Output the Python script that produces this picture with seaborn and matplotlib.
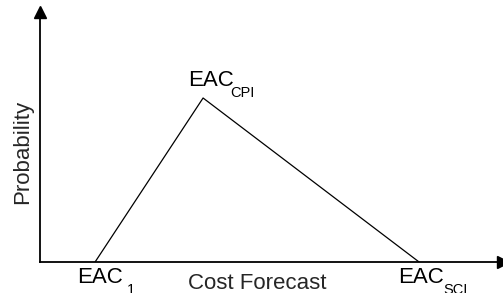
import matplotlib
matplotlib.use("Agg")
import matplotlib.pyplot as plt
import seaborn as sns
import pandas as pd

# Data
cost_forecast = [1.0, 2.0, 4.0]
probability = [0.0, 1.0, 0.0]
label_base = ["EAC", "EAC", "EAC"]
label_sub = ["1", "CPI", "SCI"]
x_title = "Cost Forecast"
y_title = "Probability"

sns.set_style("white")
plt.rcParams["font.family"] = ["Liberation Sans", "DejaVu Sans"]

W, H = 503, 293
fig = plt.figure(figsize=(W / 100, H / 100), dpi=100)
ax = fig.add_axes([40 / W, (H - 262) / H, 463 / W, 250 / H])

df = pd.DataFrame({"cost": cost_forecast, "prob": probability})
sns.lineplot(data=df, x="cost", y="prob", color="black", linewidth=0.9, ax=ax)

ax.set_xlim(0.49, 0.49 + 463 / 108)
ax.set_ylim(0, 250 / 164)
for s in ["top", "right"]:
    ax.spines[s].set_visible(False)
for s in ["left", "bottom"]:
    ax.spines[s].set_linewidth(1.3)
    ax.spines[s].set_color("black")
ax.set_xticks([])
ax.set_yticks([])
ax.set_xlabel("")
ax.set_ylabel("")

# arrow heads
ax.plot(1, 0, ">k", markersize=8, transform=ax.transAxes, clip_on=False)
ax.plot(0, 1, "^k", markersize=8, transform=ax.transAxes, clip_on=False)

# point labels (base text + lowered subscript)
base_off = [(-18, -21), (-15, 12), (-21, -21)]
sub_off = [(32, -32), (27, 1), (24, -32)]
for x, y, b, s, (bx, by), (sx, sy) in zip(cost_forecast, probability, label_base,
                                           label_sub, base_off, sub_off):
    ax.annotate(b, xy=(x, y), xytext=(bx, by), textcoords="offset pixels",
                ha="left", va="baseline", fontsize=16, color="black",
                annotation_clip=False)
    ax.annotate(s, xy=(x, y), xytext=(sx, sy), textcoords="offset pixels",
                ha="left", va="baseline", fontsize=10.5, color="black",
                annotation_clip=False)

fig.text(257 / W, 1 - 289 / H, x_title, ha="center", va="baseline", fontsize=16)
fig.text(23 / W, 1 - 152 / H, y_title, ha="center", va="center", rotation=90, fontsize=16)

fig.savefig("out.png", dpi=100)
